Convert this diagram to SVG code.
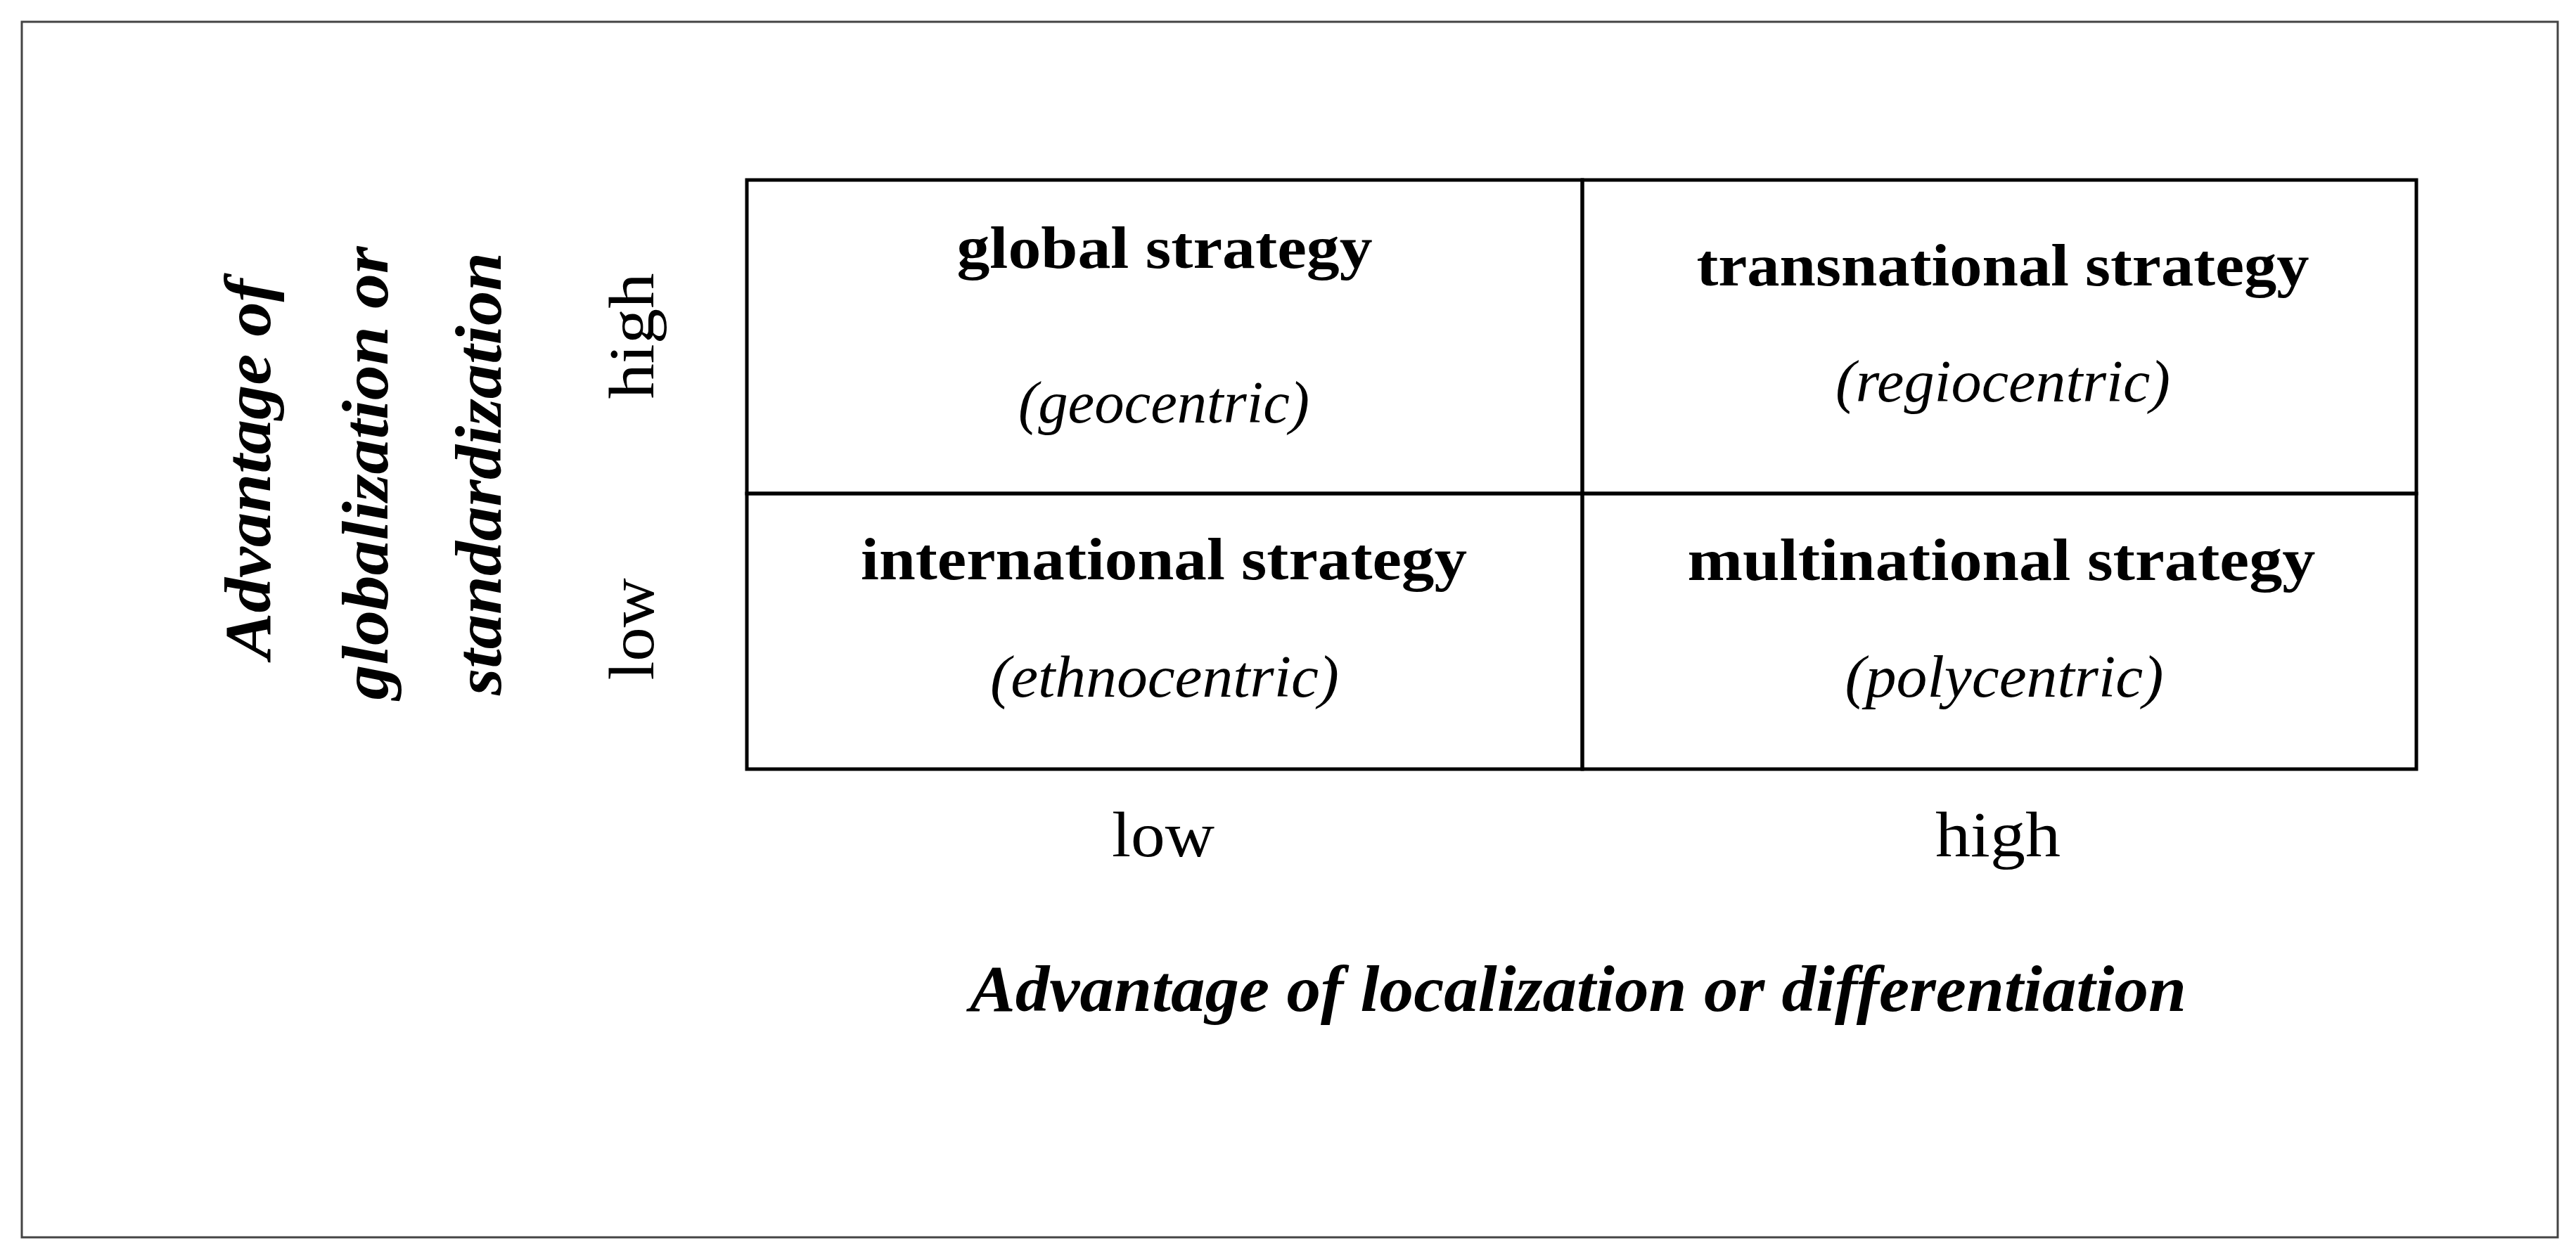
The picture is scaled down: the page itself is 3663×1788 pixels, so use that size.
<svg xmlns="http://www.w3.org/2000/svg" width="3663" height="1788" viewBox="0 0 3663 1788">
<style>
.frame{fill:none;stroke:#444;stroke-width:3}
.cell{fill:none;stroke:#000;stroke-width:5}
.t{font-family:"Liberation Serif","Times New Roman",serif;fill:#000}
.title{font-size:84px;font-weight:bold}
.sub{font-size:84px;font-style:italic}
.axis{font-size:94px;font-weight:bold;font-style:italic}
.lvl{font-size:92px}
</style>
<rect width="3663" height="1788" fill="#fff"/>
<rect class="frame" x="31" y="31" width="3606" height="1729"/>

<g id="cell-global">
<rect class="cell" x="1062" y="256" width="1188" height="446"/>
<text class="t title" x="1656" y="381" text-anchor="middle" textLength="591" lengthAdjust="spacingAndGlyphs">global strategy</text>
<text class="t sub" x="1655" y="601" text-anchor="middle" textLength="414" lengthAdjust="spacingAndGlyphs">(geocentric)</text>
</g>
<g id="cell-transnational">
<rect class="cell" x="2250" y="256" width="1186" height="446"/>
<text class="t title" x="2848" y="406" text-anchor="middle" textLength="871" lengthAdjust="spacingAndGlyphs">transnational strategy</text>
<text class="t sub" x="2848" y="571" text-anchor="middle" textLength="476" lengthAdjust="spacingAndGlyphs">(regiocentric)</text>
</g>
<g id="cell-international">
<rect class="cell" x="1062" y="702" width="1188" height="392"/>
<text class="t title" x="1655" y="824" text-anchor="middle" textLength="862" lengthAdjust="spacingAndGlyphs">international strategy</text>
<text class="t sub" x="1656" y="991" text-anchor="middle" textLength="496" lengthAdjust="spacingAndGlyphs">(ethnocentric)</text>
</g>
<g id="cell-multinational">
<rect class="cell" x="2250" y="702" width="1186" height="392"/>
<text class="t title" x="2846" y="825" text-anchor="middle" textLength="893" lengthAdjust="spacingAndGlyphs">multinational strategy</text>
<text class="t sub" x="2850" y="991" text-anchor="middle" textLength="453" lengthAdjust="spacingAndGlyphs">(polycentric)</text>
</g>

<g id="y-axis-title">
<text class="t axis" transform="translate(384,667) rotate(-90)" x="0" y="0" text-anchor="middle" textLength="541" lengthAdjust="spacingAndGlyphs">Advantage of</text>
<text class="t axis" transform="translate(551,673) rotate(-90)" x="0" y="0" text-anchor="middle" textLength="645" lengthAdjust="spacingAndGlyphs">globalization or</text>
<text class="t axis" transform="translate(712,674) rotate(-90)" x="0" y="0" text-anchor="middle" textLength="630" lengthAdjust="spacingAndGlyphs">standardization</text>
</g>
<g id="y-high">
<text class="t lvl" transform="translate(929,478) rotate(-90)" x="0" y="0" text-anchor="middle" textLength="179" lengthAdjust="spacingAndGlyphs">high</text>
</g>
<g id="y-low">
<text class="t lvl" transform="translate(929,895) rotate(-90)" x="0" y="0" text-anchor="middle" textLength="145" lengthAdjust="spacingAndGlyphs">low</text>
</g>
<g id="x-low">
<text class="t lvl" x="1654" y="1218" text-anchor="middle" textLength="146" lengthAdjust="spacingAndGlyphs">low</text>
</g>
<g id="x-high">
<text class="t lvl" x="2841" y="1218" text-anchor="middle" textLength="178" lengthAdjust="spacingAndGlyphs">high</text>
</g>
<g id="x-axis-title">
<text class="t axis" x="2244" y="1438" text-anchor="middle" textLength="1730" lengthAdjust="spacingAndGlyphs">Advantage of localization or differentiation</text>
</g>
<g id="connectors"/>
</svg>
